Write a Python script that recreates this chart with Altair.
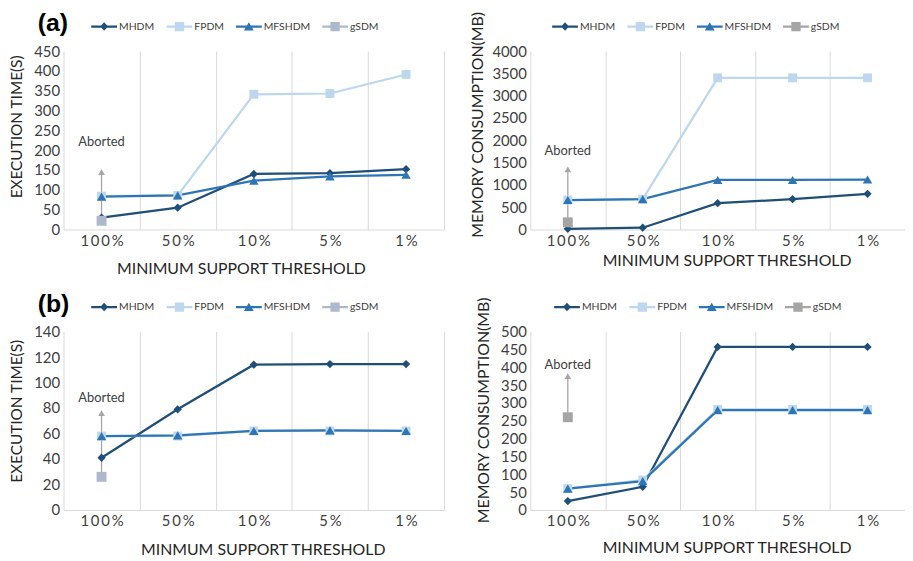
import altair as alt
import pandas as pd

categories = ["100%", "50%", "10%", "5%", "1%"]
series = ["MHDM", "FPDM", "MFSHDM", "gSDM"]

# (a) execution time (s)
a_time_mhdm = [30, 55, 140, 142, 152]
a_time_fpdm = [84, 86, 341, 343, 391]
a_time_mfshdm = [83, 86, 123, 134, 138]
a_time_gsdm = [22]
a_time_arrow = 145
a_time_label = 220

# (a) memory consumption (MB)
a_mem_mhdm = [15, 40, 590, 680, 800]
a_mem_fpdm = [660, 680, 3400, 3400, 3400]
a_mem_mfshdm = [660, 680, 1110, 1110, 1120]
a_mem_gsdm = [160]
a_mem_arrow = 1350
a_mem_label = 1760

# (b) execution time (s)
b_time_mhdm = [41, 79, 114, 114.5, 114.5]
b_time_fpdm = [58, 58, 62, 62, 62]
b_time_mfshdm = [58, 58.5, 62, 62.5, 62]
b_time_gsdm = [26]
b_time_arrow = 76
b_time_label = 88

# (b) memory consumption (MB)
b_mem_mhdm = [25, 65, 457, 457, 457]
b_mem_fpdm = [60, 84, 282, 282, 282]
b_mem_mfshdm = [60, 81, 280, 280, 280]
b_mem_gsdm = [260]
b_mem_arrow = 375
b_mem_label = 407

FONT = "Lato"
THIN = "\u2009"
H = 180


def long_df(lists):
    rows = []
    for s, vals in zip(series, lists):
        for c, v in zip(categories, vals):
            rows.append({"cat": c, "series": s, "value": v})
    return pd.DataFrame(rows)


def legend_paths():
    line = "M-1,-0.085H1V0.085H-1Z"
    diamond = "M0,-0.33L0.31,0L0,0.33L-0.31,0Z"
    square = "M-0.36,-0.36H0.36V0.36H-0.36Z"
    tri = "M0,-0.34L0.38,0.3H-0.38Z"
    return [line + diamond, line + square, line + tri, line + square]


def panel(vals, gsdm, arrow_top, label_y, ymax, ystep, ytitle, xtitle, width,
          gsdm_color, legend_x, ytitle_pad, xtitle_pad, xtitle_dx, ytitle_dy,
          ytitle_size, tag=None):
    df = long_df([vals[0], vals[1], vals[2], gsdm])
    colors = ["#1f4e79", "#bdd7ee", "#2e75b6", gsdm_color]

    def mk_x():
        return alt.X(
            "cat:N",
            sort=categories,
            bandPosition=0.5,
            scale=alt.Scale(domain=categories, type="band", paddingInner=0, paddingOuter=0),
            axis=alt.Axis(
                labelAngle=0, labelAlign="center", ticks=False, tickBand="extent", grid=True,
                gridColor="#d9d9d9", gridWidth=1, domainColor="#d9d9d9", domainWidth=1,
                labelFont=FONT, labelFontSize=15, labelColor="#404040", labelPadding=4,
                labelExpr="join(split(datum.label, ''), '" + THIN + "')",
                titleFont=FONT, titleFontSize=16, titleFontWeight="normal",
                titleColor="#262626", titlePadding=xtitle_pad,
                titleX=width / 2 + xtitle_dx, titleAlign="center",
            ),
            title=xtitle,
        )

    def mk_y(field):
        return alt.Y(
            field + ":Q",
            scale=alt.Scale(domain=[0, ymax], nice=False),
            axis=alt.Axis(
                values=list(range(0, ymax + 1, ystep)), format="d", domain=False,
                ticks=False, grid=False,
                labelFont=FONT, labelFontSize=15, labelColor="#404040", labelPadding=4,
                titleFont=FONT, titleFontSize=ytitle_size, titleFontWeight="normal",
                titleColor="#262626", titlePadding=ytitle_pad,
                titleY=H / 2 + ytitle_dy,
            ),
            title=ytitle,
        )

    base = alt.Chart(df).encode(x=mk_x(), y=mk_y("value"))
    lines = base.mark_line(strokeWidth=2.25).encode(
        color=alt.Color("series:N", scale=alt.Scale(domain=series, range=colors), legend=None),
    )
    points = base.mark_point(filled=True, opacity=1, strokeWidth=0).encode(
        color=alt.Color("series:N", scale=alt.Scale(domain=series, range=colors), legend=None),
        shape=alt.Shape("series:N", scale=alt.Scale(domain=series,
                        range=["diamond", "square", "triangle-up", "square"]), legend=None),
        size=alt.Size("series:N", scale=alt.Scale(domain=series, range=[70, 100, 110, 80]), legend=None),
    )
    adf = pd.DataFrame([{"cat": categories[0], "lo": gsdm[0], "hi": arrow_top,
                         "ly": label_y, "txt": "Aborted"}])
    arrow = alt.Chart(adf).mark_rule(color="#a6a6a6", strokeWidth=1.3).encode(
        x=mk_x(), y=mk_y("lo"), y2="hi:Q")
    head = alt.Chart(adf).mark_point(shape="triangle-up", filled=True, opacity=1,
                                     color="#a6a6a6", size=45, strokeWidth=0).encode(
        x=mk_x(), y=mk_y("hi"))
    label = alt.Chart(adf).mark_text(font=FONT, fontSize=13, color="#404040",
                                     baseline="middle").encode(
        x=mk_x(), y=mk_y("ly"), text="txt:N")
    leg_props = dict(orient="none", legendX=legend_x, legendY=-38, direction="horizontal",
                     title=None, symbolSize=676, symbolStrokeWidth=0, symbolOpacity=1,
                     labelFont=FONT, labelFontSize=10.5, labelColor="#404040",
                     labelOffset=2, columnPadding=12, padding=0)
    legend = base.mark_point(filled=True, opacity=1).encode(
        color=alt.Color("series:N", scale=alt.Scale(domain=series, range=colors),
                        legend=alt.Legend(**leg_props)),
        shape=alt.Shape("series:N", scale=alt.Scale(domain=series, range=legend_paths()),
                        legend=alt.Legend(**leg_props)),
    ).transform_filter("false")
    ch = alt.layer(lines, arrow, head, points, label, legend).resolve_scale(
        color="independent", shape="independent", size="independent"
    )
    props = dict(width=width, height=H)
    if tag:
        props["title"] = alt.TitleParams(tag, anchor="start", frame="group",
                                         font="Liberation Sans", fontSize=25,
                                         fontWeight="bold", color="#000000",
                                         dx=-26, dy=23, offset=0)
    return ch.properties(**props)


a_left = panel([a_time_mhdm, a_time_fpdm, a_time_mfshdm], a_time_gsdm, a_time_arrow,
               a_time_label, 450, 50, "EXECUTION TIME(S)", "MINIMUM SUPPORT THRESHOLD",
               384, "#adb9ca", 28, 9, 12, -13, -14, 15.5, "(a)")
a_right = panel([a_mem_mhdm, a_mem_fpdm, a_mem_mfshdm], a_mem_gsdm, a_mem_arrow,
                a_mem_label, 4000, 500, "MEMORY CONSUMPTION(MB)", "MINIMUM SUPPORT THRESHOLD",
                378, "#a5a5a5", 22, 6, 4, 9, -16, 16)
b_left = panel([b_time_mhdm, b_time_fpdm, b_time_mfshdm], b_time_gsdm, b_time_arrow,
               b_time_label, 140, 20, "EXECUTION TIME(S)", "MINMUM SUPPORT THRESHOLD",
               384, "#adb9ca", 28, 9, 13, 9, -10, 15.5, "(b)")
b_right = panel([b_mem_mhdm, b_mem_fpdm, b_mem_mfshdm], b_mem_gsdm, b_mem_arrow,
                b_mem_label, 500, 50, "MEMORY CONSUMPTION(MB)", "MINIMUM SUPPORT THRESHOLD",
                378, "#a5a5a5", 24, 9, 11, 9, -11, 16)

chart = alt.concat(a_left, a_right, b_left, b_right, columns=2, bounds="flush",
                   spacing=alt.RowColnumber(row=103, column=87)).configure(
    padding={"left": 1, "top": 0, "right": 0, "bottom": 0}, background="white"
).configure_view(stroke=None)

chart.save("out.html", embed_options={"renderer": "svg", "actions": False})
